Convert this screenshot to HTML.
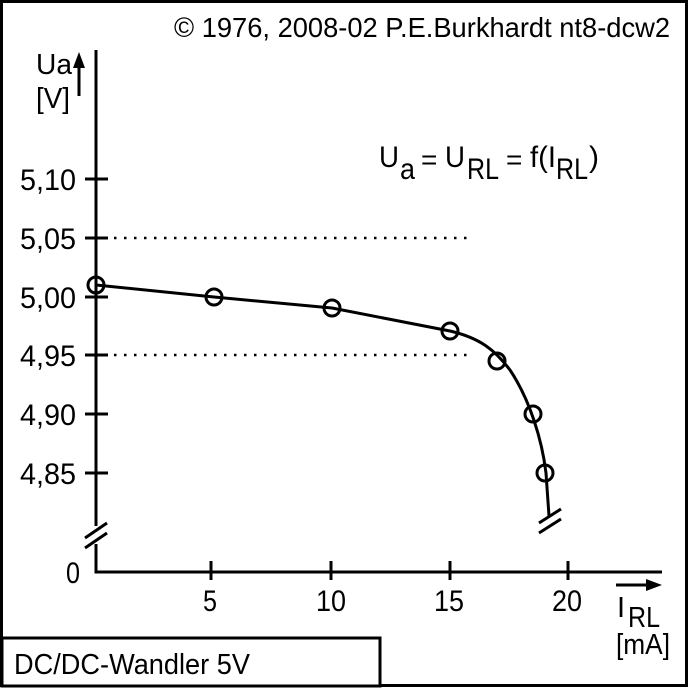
<!DOCTYPE html>
<html><head><meta charset="utf-8"><style>
html,body{margin:0;padding:0;background:#fff}
svg text{font-family:"Liberation Sans",sans-serif;fill:#000}
</style></head><body>
<svg width="688" height="688" viewBox="0 0 688 688" xmlns="http://www.w3.org/2000/svg">
<rect x="1.5" y="1.5" width="685" height="684" fill="#fff" stroke="#000" stroke-width="3"/>
<text x="670" y="37" font-size="28" text-anchor="end" textLength="496" lengthAdjust="spacingAndGlyphs">© 1976, 2008-02 P.E.Burkhardt nt8-dcw2</text>
<text x="36" y="74" font-size="29" textLength="36" lengthAdjust="spacingAndGlyphs">Ua</text>
<text x="36" y="108" font-size="29" textLength="34" lengthAdjust="spacingAndGlyphs">[V]</text>
<line x1="79" y1="96" x2="79" y2="64" stroke="#000" stroke-width="3"/>
<polygon points="73,68 79,52 85,68" fill="#000"/>
<polyline points="96,50 96,526" fill="none" stroke="#000" stroke-width="3"/>
<polyline points="96,544 96,572 662,572" fill="none" stroke="#000" stroke-width="3"/>
<line x1="85" y1="548" x2="107" y2="533" stroke="#000" stroke-width="3"/>
<line x1="85" y1="538" x2="107" y2="523" stroke="#000" stroke-width="3"/>
<g stroke="#000" stroke-width="3">
<line x1="85" y1="179" x2="108" y2="179"/>
<line x1="85" y1="238" x2="108" y2="238"/>
<line x1="85" y1="297" x2="108" y2="297"/>
<line x1="85" y1="355" x2="108" y2="355"/>
<line x1="85" y1="414" x2="108" y2="414"/>
<line x1="85" y1="473" x2="108" y2="473"/>
<line x1="211" y1="561" x2="211" y2="580"/>
<line x1="331" y1="561" x2="331" y2="580"/>
<line x1="450" y1="561" x2="450" y2="580"/>
<line x1="568" y1="561" x2="568" y2="580"/>
</g>
<g font-size="30" text-anchor="end">
<text x="76" y="190" textLength="56" lengthAdjust="spacingAndGlyphs">5,10</text>
<text x="76" y="249" textLength="56" lengthAdjust="spacingAndGlyphs">5,05</text>
<text x="76" y="308" textLength="56" lengthAdjust="spacingAndGlyphs">5,00</text>
<text x="76" y="366" textLength="56" lengthAdjust="spacingAndGlyphs">4,95</text>
<text x="76" y="425" textLength="56" lengthAdjust="spacingAndGlyphs">4,90</text>
<text x="76" y="484" textLength="56" lengthAdjust="spacingAndGlyphs">4,85</text>
<text x="80" y="583" textLength="14" lengthAdjust="spacingAndGlyphs">0</text>
</g>
<g font-size="30" text-anchor="middle">
<text x="210" y="611" textLength="14" lengthAdjust="spacingAndGlyphs">5</text>
<text x="331" y="611" textLength="30" lengthAdjust="spacingAndGlyphs">10</text>
<text x="449" y="611" textLength="30" lengthAdjust="spacingAndGlyphs">15</text>
<text x="567" y="611" textLength="30" lengthAdjust="spacingAndGlyphs">20</text>
</g>
<line x1="616" y1="585" x2="650" y2="585" stroke="#000" stroke-width="3"/>
<polygon points="646,579 662,585 646,591" fill="#000"/>
<text x="617" y="617" font-size="29">I</text>
<text x="628" y="627" font-size="29" textLength="32" lengthAdjust="spacingAndGlyphs">RL</text>
<text x="616" y="654" font-size="29" textLength="54" lengthAdjust="spacingAndGlyphs">[mA]</text>
<text x="379" y="167" font-size="30" textLength="20" lengthAdjust="spacingAndGlyphs">U</text>
<text x="400" y="179" font-size="30" textLength="15" lengthAdjust="spacingAndGlyphs">a</text>
<text x="421" y="169" font-size="28">=</text>
<text x="445" y="167" font-size="30" textLength="20" lengthAdjust="spacingAndGlyphs">U</text>
<text x="467" y="179" font-size="30" textLength="32" lengthAdjust="spacingAndGlyphs">RL</text>
<text x="506" y="169" font-size="28">=</text>
<text x="530" y="167" font-size="30" textLength="26" lengthAdjust="spacingAndGlyphs">f(I</text>
<text x="556" y="179" font-size="30" textLength="32" lengthAdjust="spacingAndGlyphs">RL</text>
<text x="589" y="167" font-size="30">)</text>
<line x1="104" y1="238" x2="472" y2="238" stroke="#000" stroke-width="2.5" stroke-dasharray="2.5,7.5"/>
<line x1="104" y1="355" x2="472" y2="355" stroke="#000" stroke-width="2.5" stroke-dasharray="2.5,7.5"/>
<path d="M96,285 L214,297 L332,308 L450,331 C480,338 495,350 510,370 C530,400 542,440 546,473 L549,516" fill="none" stroke="#000" stroke-width="3"/>
<line x1="539" y1="523" x2="561" y2="509" stroke="#000" stroke-width="3"/>
<line x1="539" y1="533" x2="561" y2="519" stroke="#000" stroke-width="3"/>
<g fill="none" stroke="#000" stroke-width="3">
<circle cx="96" cy="285" r="8"/>
<circle cx="214" cy="297" r="8"/>
<circle cx="332" cy="308" r="8"/>
<circle cx="450" cy="331" r="8"/>
<circle cx="497" cy="361" r="8"/>
<circle cx="533" cy="414" r="8"/>
<circle cx="545" cy="473" r="8"/>
</g>
<rect x="2" y="638" width="378" height="48" fill="#fff" stroke="#000" stroke-width="3"/>
<text x="14" y="674" font-size="29" textLength="236" lengthAdjust="spacingAndGlyphs">DC/DC-Wandler 5V</text>
</svg>
</body></html>
